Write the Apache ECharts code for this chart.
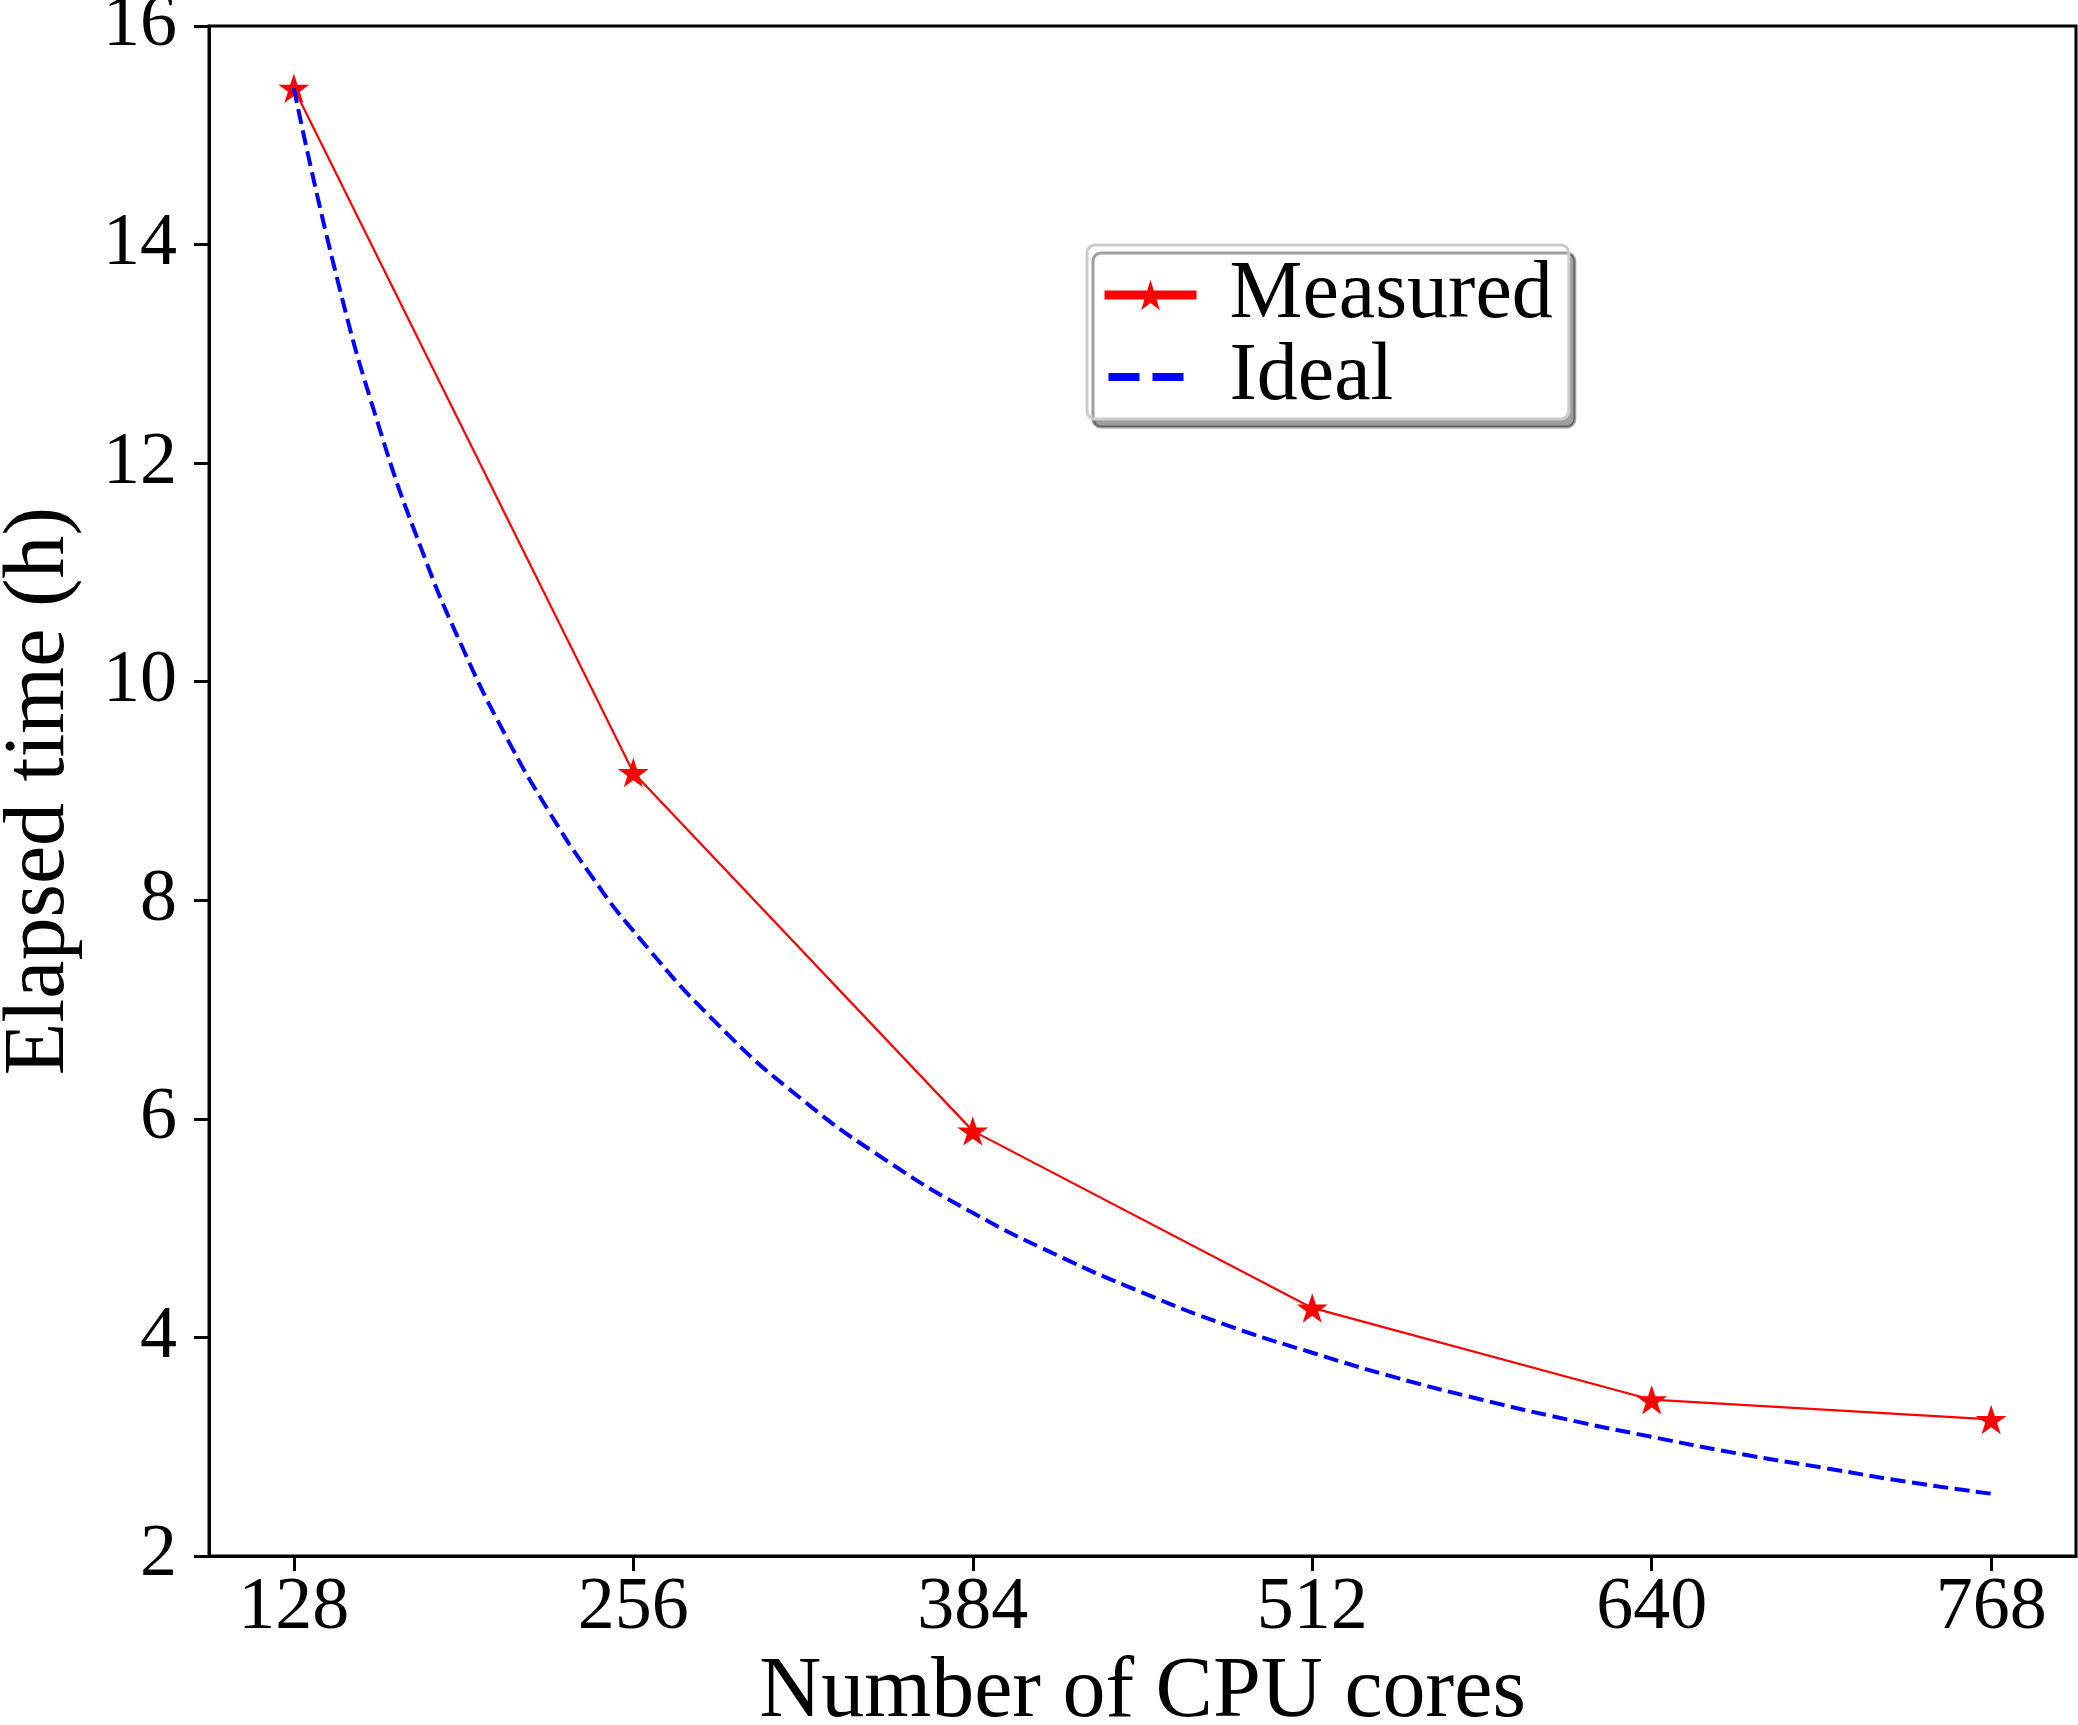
<!DOCTYPE html>
<html>
<head>
<meta charset="utf-8">
<script src="https://cdn.jsdelivr.net/npm/echarts@6/dist/echarts.min.js"></script>
<style>
  html, body { margin: 0; padding: 0; background: #fff; }
  #chart { width: 2078px; height: 1725px; }
</style>
</head>
<body>
<div id="chart"></div>
<script>
// cores on the x axis
const coreTicks = [128, 256, 384, 512, 640, 768];
// measured elapsed time (h)
const measured = [15.43, 9.17, 5.89, 4.27, 3.43, 3.25];
// ideal curve
const idealCores = [128, 144, 160, 176, 192, 208, 224, 240, 256, 288, 320, 352, 384, 416, 448, 480, 512, 544, 576, 608, 640, 672, 704, 736, 768];
const idealTime = [15.43, 13.72, 12.34, 11.22, 10.29, 9.50, 8.82, 8.23, 7.72, 6.86, 6.17, 5.61, 5.14, 4.75, 4.41, 4.11, 3.86, 3.63, 3.43, 3.25, 3.09, 2.94, 2.81, 2.68, 2.57];

const font = "Liberation Serif";
// 5-point star marker
const star = "path://M0,-10 L2.245,-3.09 L9.511,-3.09 L3.633,1.18 L5.878,8.09 L0,3.82 L-5.878,8.09 L-3.633,1.18 L-9.511,-3.09 L-2.245,-3.09 Z";
// two short dashes for the legend (first two moves only fix the box size)
const dashIcon = "path://M0,0 M92,38 M4,15 h31 v8 h-31 Z M48,15 h31 v8 h-31 Z";

const chart = echarts.init(document.getElementById("chart"));

const axisLine = { show: true, onZero: false, lineStyle: { color: "#000", width: 3 } };
const axisTick = { show: true, inside: false, length: 15, lineStyle: { color: "#000", width: 3 } };

chart.setOption({
  backgroundColor: "#fff",
  animation: false,
  grid: {
    left: 209,
    right: 2,
    top: 26,
    bottom: 169,
    containLabel: false,
    outerBoundsMode: "none",
    show: true,
    borderColor: "#000",
    borderWidth: 3,
    backgroundColor: "#fff"
  },
  legend: {
    orient: "vertical",
    left: 1087,
    top: 245,
    padding: [9, 16, 1, 13],
    itemGap: 0,
    itemWidth: 92,
    itemHeight: 38,
    backgroundColor: "#fff",
    borderColor: "#cccccc",
    borderWidth: 3,
    borderRadius: 8,
    shadowColor: "rgba(0,0,0,0.38)",
    shadowBlur: 0,
    shadowOffsetX: 6,
    shadowOffsetY: 8,
    lineStyle: { width: 9 },
    textStyle: {
      fontFamily: font,
      fontSize: 82,
      lineHeight: 80,
      color: "#000",
      padding: [0, 0, 0, 28]
    },
    data: [
      { name: "Measured" },
      { name: "Ideal", icon: dashIcon }
    ]
  },
  xAxis: {
    type: "value",
    min: 96,
    max: 800,
    name: "Number of CPU cores",
    nameLocation: "middle",
    nameGap: 90,
    nameTextStyle: { fontFamily: font, fontSize: 86, color: "#000" },
    axisLine,
    axisTick: { ...axisTick, customValues: coreTicks },
    axisLabel: {
      customValues: coreTicks,
      margin: 16,
      fontFamily: font,
      fontSize: 74,
      color: "#000"
    },
    splitLine: { show: false }
  },
  yAxis: {
    type: "value",
    min: 2,
    max: 16,
    interval: 2,
    name: "Elapsed time (h)",
    nameLocation: "middle",
    nameRotate: 90,
    nameGap: 126,
    nameTextStyle: { fontFamily: font, fontSize: 86, color: "#000" },
    axisLine,
    axisTick,
    axisLabel: {
      margin: 32,
      fontFamily: font,
      fontSize: 74,
      color: "#000"
    },
    splitLine: { show: false }
  },
  series: [
    {
      name: "Measured",
      type: "line",
      data: coreTicks.map((c, i) => [c, measured[i]]),
      symbol: star,
      symbolSize: 31,
      symbolKeepAspect: true,
      showSymbol: true,
      lineStyle: { color: "#ff0000", width: 2.2 },
      itemStyle: { color: "#ff0000" },
      z: 3
    },
    {
      name: "Ideal",
      type: "line",
      data: idealCores.map((c, i) => [c, idealTime[i]]),
      smooth: true,
      showSymbol: false,
      symbol: "none",
      lineStyle: { color: "#0000ff", width: 4, type: [15, 6.5] },
      itemStyle: { color: "#0000ff" },
      z: 4
    }
  ]
});
</script>
</body>
</html>
